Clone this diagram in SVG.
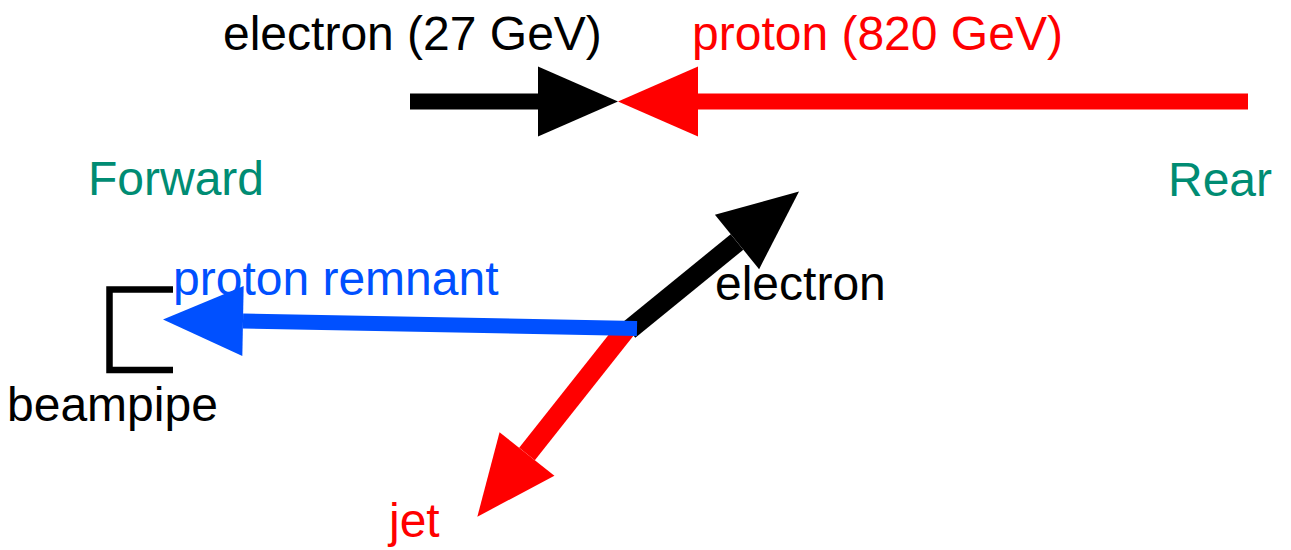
<svg xmlns="http://www.w3.org/2000/svg" width="1291" height="550" viewBox="0 0 1291 550">
  <style>
    text { font-family: "Liberation Sans", Arial, sans-serif; font-size: 48px; }
    .k { fill: #000000; }
    .r { fill: #FF0000; }
    .b { fill: #0050FF; }
    .g { fill: #008C73; }
    .ln { fill: none; stroke-linecap: butt; }
  </style>
  <defs>
    <marker id="hk" markerUnits="userSpaceOnUse" markerWidth="80" markerHeight="70" refX="0" refY="35" orient="auto" overflow="visible">
      <path d="M0,0 L80,35 L0,70 Z" fill="#000000"/>
    </marker>
    <marker id="hr" markerUnits="userSpaceOnUse" markerWidth="80" markerHeight="70" refX="0" refY="35" orient="auto" overflow="visible">
      <path d="M0,0 L80,35 L0,70 Z" fill="#FF0000"/>
    </marker>
    <marker id="hb" markerUnits="userSpaceOnUse" markerWidth="80" markerHeight="70" refX="0" refY="35" orient="auto" overflow="visible">
      <path d="M0,0 L80,35 L0,70 Z" fill="#0050FF"/>
    </marker>
  </defs>

  <g id="connectors">
    <line id="beam-electron" class="ln" x1="410" y1="101.5" x2="538" y2="101.5" stroke="#000000" stroke-width="16" marker-end="url(#hk)"/>
    <line id="beam-proton" class="ln" x1="1248" y1="101.5" x2="698" y2="101.5" stroke="#FF0000" stroke-width="16" marker-end="url(#hr)"/>
    <line id="out-jet" class="ln" x1="626" y1="329" x2="527" y2="454" stroke="#FF0000" stroke-width="20" marker-end="url(#hr)"/>
    <line id="out-electron" class="ln" x1="629" y1="330" x2="737" y2="242" stroke="#000000" stroke-width="20" marker-end="url(#hk)"/>
    <line id="out-remnant" class="ln" x1="637" y1="328.5" x2="243" y2="321" stroke="#0050FF" stroke-width="15" marker-end="url(#hb)"/>
  </g>

  <g id="beampipe">
    <path d="M173,289.5 H109.5 V370 H173" fill="none" stroke="#000000" stroke-width="6.5"/>
    <text class="k" x="7" y="421">beampipe</text>
  </g>

  <g id="label-electron-beam"><text class="k" x="223" y="50">electron (27 GeV)</text></g>
  <g id="label-proton-beam"><text class="r" x="692" y="50">proton (820 GeV)</text></g>
  <g id="label-forward"><text class="g" x="88" y="195">Forward</text></g>
  <g id="label-rear"><text class="g" x="1168" y="196">Rear</text></g>
  <g id="label-remnant"><text class="b" x="173" y="295">proton remnant</text></g>
  <g id="label-electron"><text class="k" x="715" y="300">electron</text></g>
  <g id="label-jet"><text class="r" x="389" y="537">jet</text></g>
</svg>
